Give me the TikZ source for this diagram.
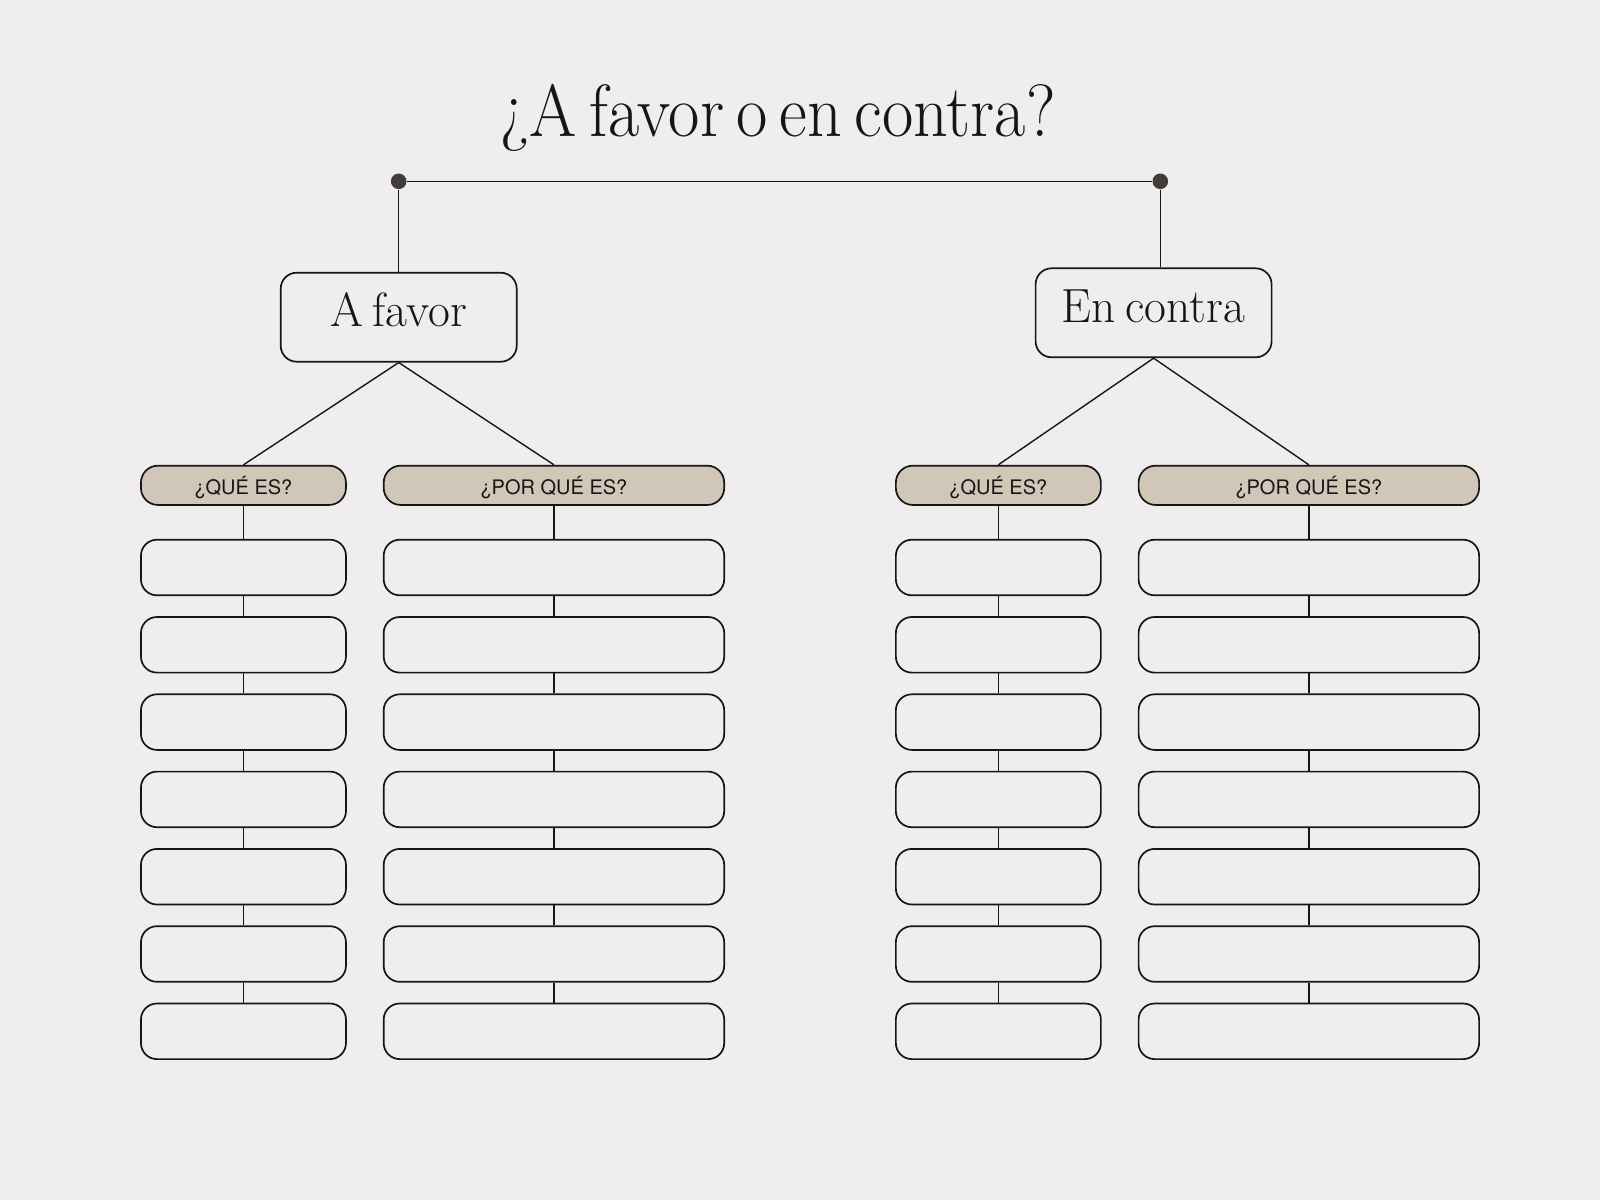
\documentclass[tikz,border=0pt]{standalone}
\usepackage{fontspec}
\usepackage{graphicx}
\usepackage{tikz}
\usetikzlibrary{positioning}
\newfontfamily\headfont{TeX Gyre Heros}
\definecolor{paper}{RGB}{239,237,238}
\definecolor{sand}{RGB}{208,199,185}
\definecolor{ink}{RGB}{22,22,22}
\definecolor{dotgray}{RGB}{64,61,58}
\newcommand{\narrowtext}[3]{\scalebox{#1}[1]{\spaceskip=#2em\relax #3}}

\tikzset{
  side/.style={draw=ink, line width=1.7pt, rounded corners=16pt, minimum width=236pt, minimum height=89pt, text height=19pt, text depth=0pt, font=\fontsize{48}{52}\selectfont},
  head/.style={draw=ink, fill=sand, line width=1.7pt, rounded corners=17pt, minimum height=39.3pt, text height=17.4pt, text depth=0pt, font=\headfont\fontsize{20}{24}\selectfont},
  blank/.style={draw=ink, line width=1.7pt, rounded corners=16pt, minimum height=55.6pt},
  que/.style={minimum width=205pt},
  porque/.style={minimum width=340.5pt},
  dot/.style={circle, fill=dotgray, minimum size=15.6pt, inner sep=0pt},
}

\begin{document}
\begin{tikzpicture}[x=1pt, y=1pt, color=ink, line width=1.4pt,
  sibling distance=310.5pt,
  level 2/.style={level distance=82.2pt},
  level 3/.style={level distance=77.3pt},
  edge from parent/.style={draw, line width=1.4pt},
  edge from parent path={(\tikzparentnode.south) -- (\tikzchildnode.north)}]
\useasboundingbox (0,0) rectangle (1600,-1200);
\fill[paper] (0,0) rectangle (1600,-1200);

\node (title)[anchor=base, font=\fontsize{74}{80}\selectfont] at (778,-136) {\narrowtext{0.92}{0.18}{¿A favor o en contra?}};
\node (fav_dot)[dot] at (398.7,-181.3) {};
\node (con_dot)[dot] at (1160.3,-181.3) {};

% left tree
\node (fav)[side] at (398.7,-317.2) {\narrowtext{0.99}{0.2}{A favor}} [level distance=168.1pt]
  child {node [head,que] (fav_que) {¿QUÉ ES?}
    child {node [blank,que] (fav_que_1) {}
    child {node [blank,que] (fav_que_2) {}
    child {node [blank,que] (fav_que_3) {}
    child {node [blank,que] (fav_que_4) {}
    child {node [blank,que] (fav_que_5) {}
    child {node [blank,que] (fav_que_6) {}
    child {node [blank,que] (fav_que_7) {}
    }}}}}}}}
  child {node [head,porque] (fav_why) {¿POR QUÉ ES?}
    child {node [blank,porque] (fav_why_1) {}
    child {node [blank,porque] (fav_why_2) {}
    child {node [blank,porque] (fav_why_3) {}
    child {node [blank,porque] (fav_why_4) {}
    child {node [blank,porque] (fav_why_5) {}
    child {node [blank,porque] (fav_why_6) {}
    child {node [blank,porque] (fav_why_7) {}
    }}}}}}}};

% right tree
\node (con)[side] at (1153.6,-312.8) {\narrowtext{0.99}{0.2}{En contra}} [level distance=172.5pt]
  child {node [head,que] (con_que) {¿QUÉ ES?}
    child {node [blank,que] (con_que_1) {}
    child {node [blank,que] (con_que_2) {}
    child {node [blank,que] (con_que_3) {}
    child {node [blank,que] (con_que_4) {}
    child {node [blank,que] (con_que_5) {}
    child {node [blank,que] (con_que_6) {}
    child {node [blank,que] (con_que_7) {}
    }}}}}}}}
  child {node [head,porque] (con_why) {¿POR QUÉ ES?}
    child {node [blank,porque] (con_why_1) {}
    child {node [blank,porque] (con_why_2) {}
    child {node [blank,porque] (con_why_3) {}
    child {node [blank,porque] (con_why_4) {}
    child {node [blank,porque] (con_why_5) {}
    child {node [blank,porque] (con_why_6) {}
    child {node [blank,porque] (con_why_7) {}
    }}}}}}}};

\draw (fav_dot) -- (con_dot);
\draw (fav_dot) -- (fav.north);
\draw (con_dot) -- (con_dot |- con.north);
\end{tikzpicture}
\end{document}
